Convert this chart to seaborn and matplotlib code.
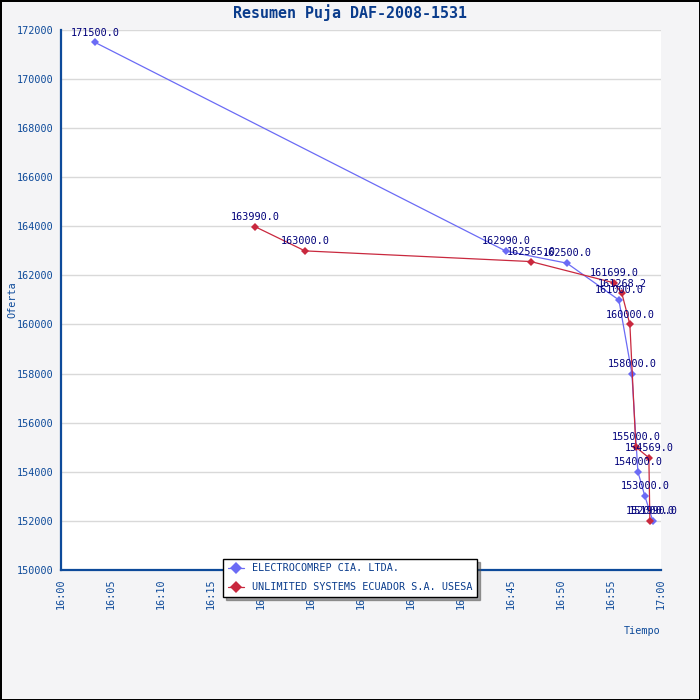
import matplotlib
matplotlib.use('Agg')
import matplotlib.pyplot as plt
import matplotlib.dates as mdates
import matplotlib.ticker as mticker
import pandas as pd
import seaborn as sns

#############################################################################################
# Datos

titulo = "Resumen Puja DAF-2008-1531"
oferentes = ["ELECTROCOMREP CIA. LTDA.", "UNLIMITED SYSTEMS ECUADOR S.A. USESA"]

horas_electro = ["16:03:24", "16:44:30", "16:50:36", "16:55:48", "16:57:06",
                 "16:57:42", "16:58:24", "16:59:12"]
ofertas_electro = [171500.0, 162990.0, 162500.0, 161000.0, 158000.0,
                   154000.0, 153000.0, 151990.0]

horas_unlimited = ["16:19:24", "16:24:24", "16:47:00", "16:55:18", "16:56:06",
                   "16:56:54", "16:57:30", "16:58:48", "16:58:54"]
ofertas_unlimited = [163990.0, 163000.0, 162565.0, 161699.0, 161268.2,
                     160000.0, 155000.0, 154569.0, 152000.0]

colores = ["#6b6bf5", "#c9283e"]

#############################################################################################

fecha = "2008-01-01 "
df = pd.concat([
    pd.DataFrame({"Tiempo": pd.to_datetime([fecha + h for h in horas_electro]),
                  "Oferta": ofertas_electro, "Oferente": oferentes[0]}),
    pd.DataFrame({"Tiempo": pd.to_datetime([fecha + h for h in horas_unlimited]),
                  "Oferta": ofertas_unlimited, "Oferente": oferentes[1]}),
], ignore_index=True)

sns.set_style("white")
plt.rcParams['font.family'] = ['DejaVu Sans Mono']
azul = "#0d4a9a"

fig = plt.figure(figsize=(7, 7), dpi=100, facecolor="#f4f4f6",
                 edgecolor="black", linewidth=2)
ax = fig.add_axes([0.0871, 0.186, 0.857, 0.771])

sns.lineplot(data=df, x="Tiempo", y="Oferta", hue="Oferente", style="Oferente",
             markers=["D", "D"], dashes=False, palette=colores, linewidth=0.9,
             markersize=4, markeredgewidth=0, sort=False, ax=ax)

# Etiquetas de cada oferta
for t, v in zip(df["Tiempo"], df["Oferta"]):
    ax.annotate("{:.1f}".format(v), (mdates.date2num(t), v), xytext=(0, 3.5),
                textcoords="offset points", ha="center", va="bottom",
                fontsize=7.3, color="#00007a")

ax.set_xlim(pd.Timestamp(fecha + "16:00"), pd.Timestamp(fecha + "17:00"))
ax.set_ylim(150000, 172000)

ax.xaxis.set_major_locator(mdates.MinuteLocator(byminute=range(0, 60, 5)))
ax.xaxis.set_minor_locator(mdates.MinuteLocator())
ax.xaxis.set_major_formatter(mdates.DateFormatter("%H:%M"))
ax.yaxis.set_major_locator(mticker.MultipleLocator(2000))
ax.yaxis.set_minor_locator(mticker.MultipleLocator(1000))
ax.yaxis.set_major_formatter(mticker.FormatStrFormatter("%d"))

ax.tick_params(axis="both", which="major", direction="inout", length=6, width=1,
               color=azul, labelcolor=azul, labelsize=7.3)
ax.tick_params(axis="both", which="minor", direction="in", length=3, width=1, color=azul)
ax.tick_params(axis="x", which="major", labelrotation=90, pad=3)
ax.tick_params(axis="y", which="major", pad=2)

ax.grid(axis="y", color="#d9d9d9", linewidth=1)
ax.grid(axis="x", visible=False)
for lado in ["top", "right"]:
    ax.spines[lado].set_visible(False)
for lado in ["left", "bottom"]:
    ax.spines[lado].set_color(azul)
    ax.spines[lado].set_linewidth(1.6)

ax.set_xlabel("")
ax.set_ylabel("")
fig.text(0.944, 1 - 631 / 700, "Tiempo", ha="right", va="center",
         fontsize=7.3, color=azul)
fig.text(0.017, 1 - 300 / 700, "Oferta", ha="center", va="center",
         rotation=90, fontsize=7.3, color=azul)
fig.text(0.5, 1 - 13 / 700, titulo, ha="center", va="center", fontsize=10.8,
         fontweight="bold", color="#0a3c8c")

ley = ax.legend(loc="lower left", bbox_to_anchor=(223 / 700, 1 - 597 / 700),
                bbox_transform=fig.transFigure, frameon=True, fancybox=False,
                shadow=True, framealpha=1, edgecolor="black", fontsize=7.3,
                handlelength=1.6, borderpad=0.45, labelspacing=0.9,
                handletextpad=0.8, borderaxespad=0)
ley.get_frame().set_linewidth(1)
for texto in ley.get_texts():
    texto.set_color("#0a3c8c")
for linea in ley.get_lines():
    linea.set_markersize(6)

fig.savefig("out.png", dpi=100, facecolor=fig.get_facecolor(),
            edgecolor=fig.get_edgecolor())
